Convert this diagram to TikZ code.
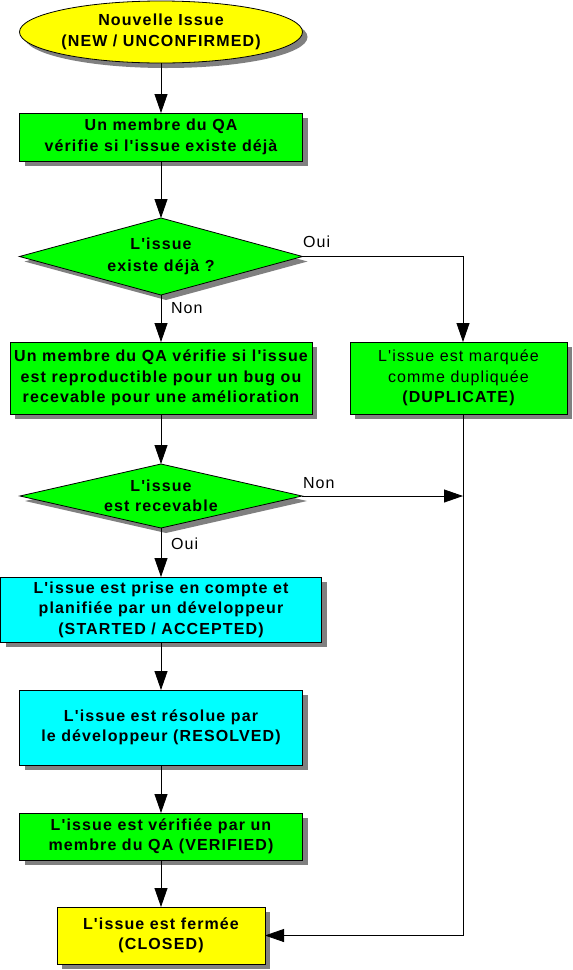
\documentclass[tikz,border=0pt]{standalone}
\usepackage{fontspec}
\setmainfont{Liberation Sans}
\newfontfamily\arsp[LetterSpace=7,Ligatures=TeXOff]{Liberation Sans}
\usetikzlibrary{shapes.geometric,arrows.meta,shadows}
\definecolor{fgreen}{RGB}{0,255,0}
\definecolor{fcyan}{RGB}{0,255,255}
\definecolor{fyellow}{RGB}{255,255,0}
\definecolor{shgray}{RGB}{128,128,128}
\begin{document}
\begin{tikzpicture}[x=1pt,y=-1pt,
 every node/.style={inner sep=0pt, outer sep=0pt},
 shad/.style={drop shadow={shadow xshift=5pt,shadow yshift=-5pt,fill=shgray,opacity=1}},
 box/.style={draw=black,line width=0.8pt,rectangle,shad},
 txt/.style={font=\arsp\bfseries\fontsize{16}{20.5}\selectfont,align=center},
 lbl/.style={font=\arsp\fontsize{16}{19}\selectfont},
 arr/.style={line width=0.8pt,-{Triangle[length=19pt,width=13pt]}},
 ln/.style={line width=0.8pt}]
\useasboundingbox (0,0) rectangle (573,970);
% shapes
\node[ellipse,draw=black,line width=0.8pt,fill=fyellow,shad,minimum width=283pt,minimum height=62pt] (e0) at (161,32) {};
\node[txt] (e0t) at (e0.center) {Nouvelle Issue\\(NEW / UNCONFIRMED)};
\node[box,fill=fgreen,minimum width=283pt,minimum height=48pt,txt] (b1) at (161,137) {Un membre du QA\\vérifie si l'issue existe déjà};
\node[diamond,draw=black,line width=0.8pt,fill=fgreen,shad,minimum width=283pt,minimum height=77pt] (d1) at (161,256.5) {};
\node[txt,font=\arsp\bfseries\fontsize{16}{22.5}\selectfont] (d1t) at (d1.center) {L'issue\\existe déjà ?};
\node[box,fill=fgreen,minimum width=302pt,minimum height=72pt,txt] (b2) at (161,378) {Un membre du QA vérifie si l'issue\\est reproductible pour un bug ou\\recevable pour une amélioration};
\node[box,fill=fgreen,minimum width=217pt,minimum height=72pt,txt] (bdup) at (458.5,378) {\mdseries L'issue est marquée\\\mdseries comme dupliquée\\(DUPLICATE)};
\node[diamond,draw=black,line width=0.8pt,fill=fgreen,shad,minimum width=282pt,minimum height=64pt] (d2) at (161,496) {};
\node[txt] (d2t) at (d2.center) {L'issue\\est recevable};
\node[box,fill=fcyan,minimum width=321pt,minimum height=65pt,txt] (b3) at (161,609.5) {L'issue est prise en compte et\\planifiée par un développeur\\(STARTED / ACCEPTED)};
\node[box,fill=fcyan,minimum width=283pt,minimum height=75pt,txt] (b4) at (161,727.5) {L'issue est résolue par\\le développeur (RESOLVED)};
\node[box,fill=fgreen,minimum width=283pt,minimum height=47pt,txt] (b5) at (161,836.5) {L'issue est vérifiée par un\\membre du QA (VERIFIED)};
\node[box,fill=fyellow,minimum width=208pt,minimum height=57pt,txt] (b6) at (161,935.5) {L'issue est fermée\\(CLOSED)};
% connectors
\coordinate (rx) at (463,0);
\draw[arr] (e0.south) -- (b1.north);
\draw[arr] (b1.south) -- (d1.north);
\draw[arr] (d1.south) -- (b2.north);
\draw[arr] (d1.east) -- (d1.east -| rx) -- (rx |- bdup.north);
\draw[arr] (b2.south) -- (d2.north);
\draw[arr] (d2.east) -- (d2.east -| rx);
\draw[arr] (d2.south) -- (b3.north);
\draw[arr] (b3.south) -- (b4.north);
\draw[arr] (b4.south) -- (b5.north);
\draw[arr] (b5.south) -- (b6.north);
\draw[arr] (rx |- bdup.south) -- (rx |- b6.east) -- (b6.east);
% labels
\node[lbl,anchor=base west] (l1) at (303,247) {Oui};
\node[lbl,anchor=base west] (l2) at (171,313) {Non};
\node[lbl,anchor=base west] (l3) at (303,488) {Non};
\node[lbl,anchor=base west] (l4) at (171,549) {Oui};
\end{tikzpicture}
\end{document}
